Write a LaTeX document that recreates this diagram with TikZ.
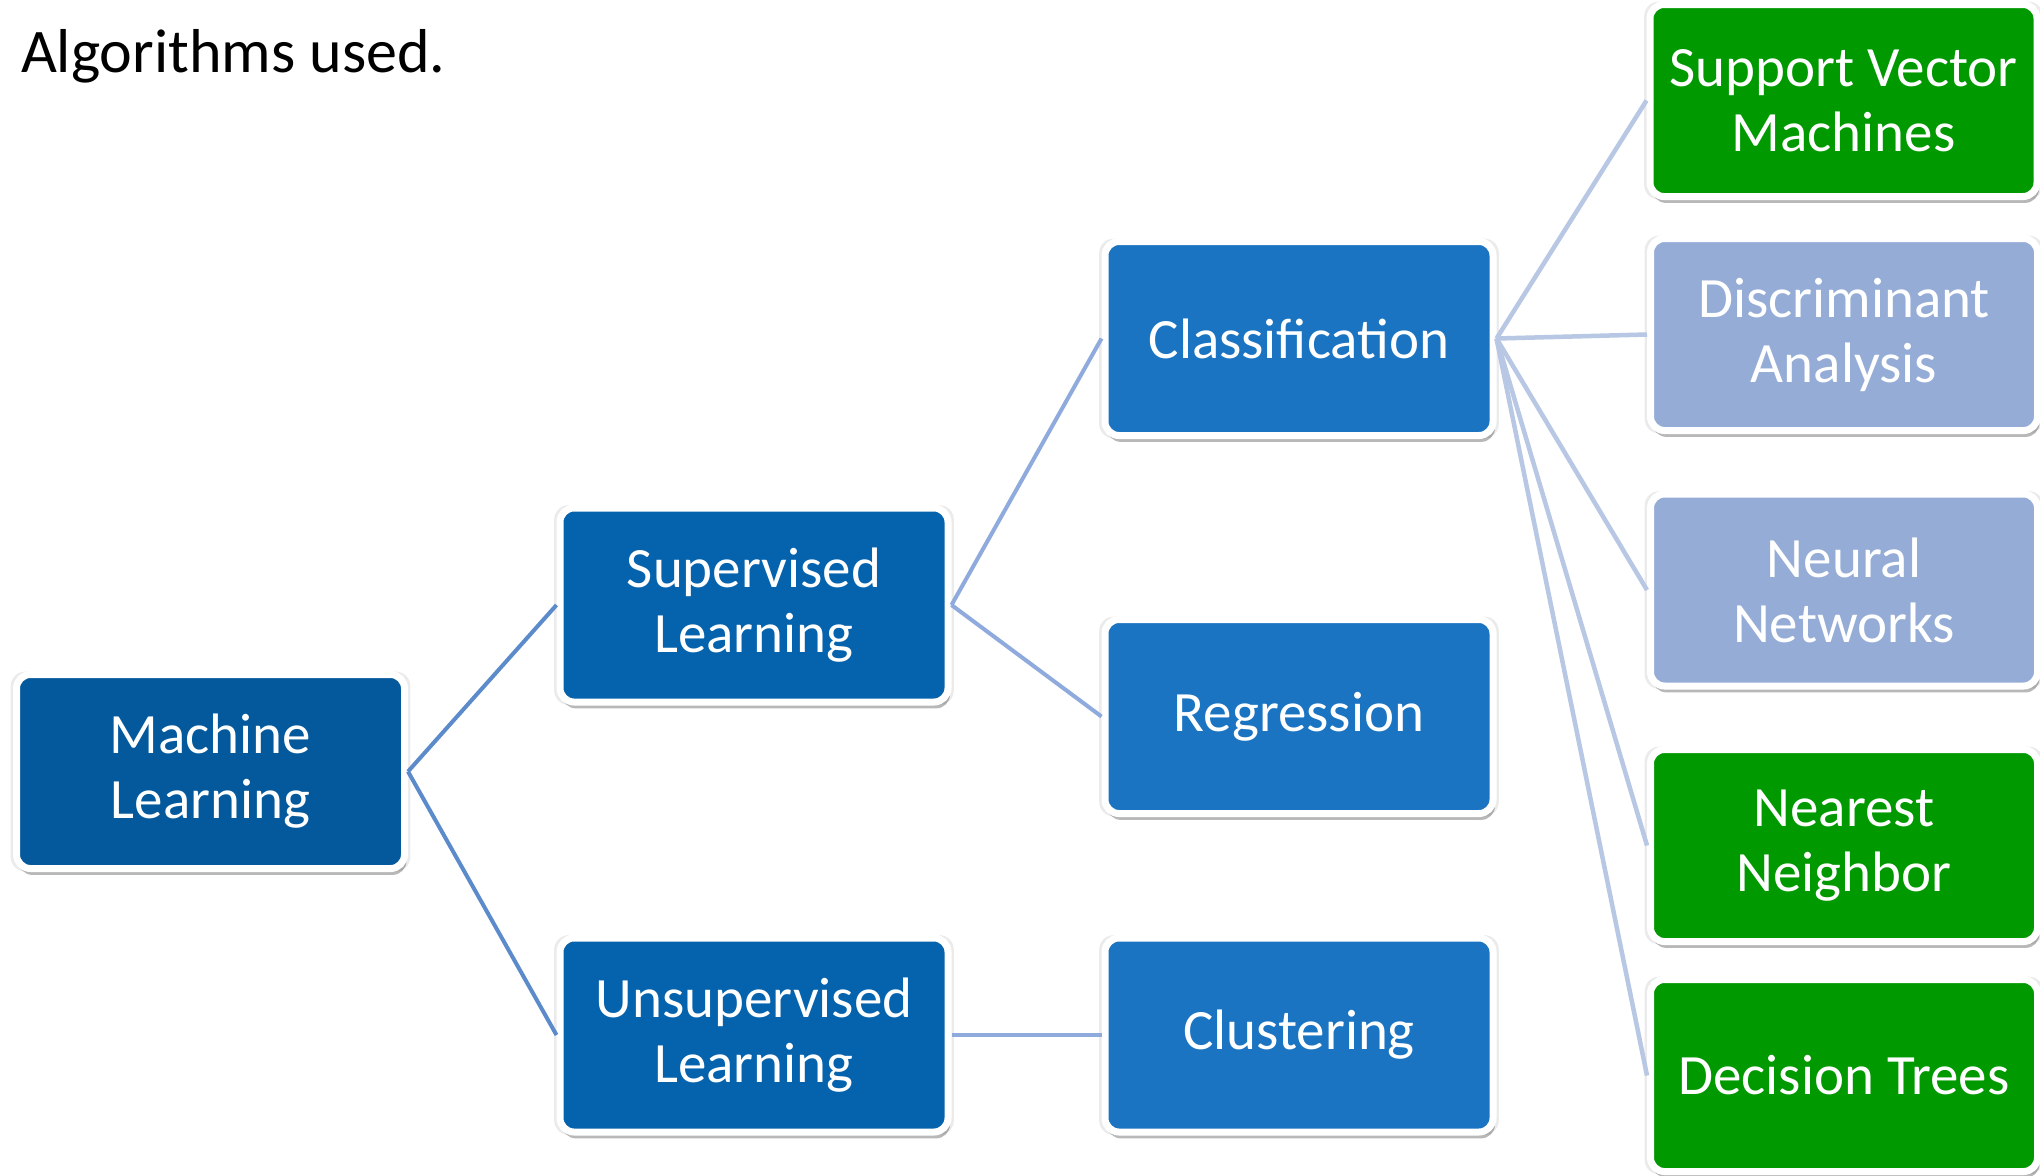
\documentclass[tikz,border=0pt]{standalone}
\usepackage{fontspec}
\setmainfont{Carlito}
\usetikzlibrary{shadows}
\definecolor{mlblue}{HTML}{03599C}
\definecolor{lvtwo}{HTML}{0563AE}
\definecolor{lvthree}{HTML}{1B74C2}
\definecolor{leafgreen}{HTML}{009900}
\definecolor{leaflight}{HTML}{95ADD6}
\definecolor{lineone}{HTML}{5B8BCB}
\definecolor{linetwo}{HTML}{8FAADC}
\definecolor{linethree}{HTML}{B8C7E3}
\begin{document}
\begin{tikzpicture}[x=0.5pt,y=-0.5pt,
  box/.style={draw=white, line width=3.5pt, rounded corners=7pt,
    minimum width=194pt, minimum height=97pt, align=center,
    text=white, font=\fontsize{28.5}{32.5}\selectfont, inner sep=0pt,
    general shadow={shadow scale=1.03, opacity=0.08, fill=black},
    drop shadow={shadow xshift=1pt, shadow yshift=-3.2pt, opacity=0.28, fill=black}},
  leaf/.style={box, minimum width=193.5pt, minimum height=96pt},
  conn/.style={line width=2pt}]
\useasboundingbox (0,0) rectangle (2040,1175);
\fill[white] (0,0) rectangle (2040,1175);
\node[anchor=base west, font=\fontsize{31}{37}\selectfont] (title) at (14,72) {Algorithms used.};
% nodes
\node[box, fill=mlblue] (ml) at (210.5,771.5) {Machine\\Learning};
\node[box, fill=lvtwo] (sup) at (754,605) {Supervised\\Learning};
\node[box, fill=lvtwo] (unsup) at (754,1035) {Unsupervised\\Learning};
\node[box, fill=lvthree] (cls) at (1299,338.5) {Classification};
\node[box, fill=lvthree] (reg) at (1299,716.5) {Regression};
\node[box, fill=lvthree] (clu) at (1299,1035) {Clustering};
\node[leaf, fill=leafgreen] (svm) at (1843.5,100.5) {Support Vector\\Machines};
\node[leaf, fill=leaflight] (da) at (1844,334.5) {Discriminant\\Analysis};
\node[leaf, fill=leaflight] (nn) at (1844,590) {Neural\\Networks};
\node[leaf, fill=leafgreen] (nb) at (1844,845.5) {Nearest\\Neighbor};
\node[leaf, fill=leafgreen] (dt) at (1844,1075.5) {Decision Trees};
% connectors
\draw[conn, draw=lineone] (ml.east) -- (sup.west);
\draw[conn, draw=lineone] (ml.east) -- (unsup.west);
\draw[conn, draw=linetwo] (sup.east) -- (cls.west);
\draw[conn, draw=linetwo] (sup.east) -- (reg.west);
\draw[conn, draw=linetwo] (unsup.east) -- (clu.west);
\foreach \t in {svm,da,nn,nb,dt}
  \draw[conn, line width=2.25pt, draw=linethree] (cls.east) -- (\t.west);
\end{tikzpicture}
\end{document}
